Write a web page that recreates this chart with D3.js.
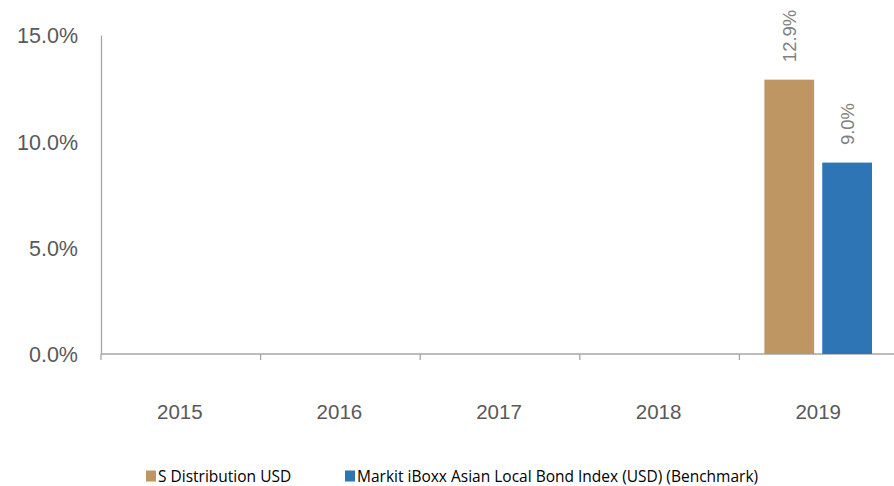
<!DOCTYPE html>
<html>
<head>
<meta charset="utf-8">
<script src="https://cdn.jsdelivr.net/npm/d3@7"></script>
<style>
  body { margin: 0; background: #fff; }
  svg { display: block; }
</style>
</head>
<body>
<div class="chart"></div>
<script>
  var years = ["2015", "2016", "2017", "2018", "2019"];
  var seriesNames = ["S Distribution USD", "Markit iBoxx Asian Local Bond Index (USD) (Benchmark)"];
  var fundValues = [null, null, null, null, 12.9];
  var benchValues = [null, null, null, null, 9.0];
  var yTicks = [0, 5, 10, 15];
  var colors = ["#BD9663", "#2E75B6"];

  var width = 894, height = 486;
  var margin = {top: 35, right: 0, bottom: 132, left: 101};
  var innerW = 798;
  var innerH = height - margin.top - margin.bottom;
  var font = "Liberation Sans, Arial, sans-serif";

  var svg = d3.select(".chart").append("svg")
    .attr("width", width)
    .attr("height", height);

  var g = svg.append("g")
    .attr("transform", "translate(" + margin.left + "," + margin.top + ")");

  var x = d3.scaleBand().domain(years).range([0, innerW]);
  var y = d3.scaleLinear().domain([0, 15]).range([innerH, 0]);
  var x1 = d3.scaleBand().domain([0, 1]).range([25, x.bandwidth() - 27]).paddingInner(0.14);

  //y axis
  var yAxis = g.append("g")
    .call(d3.axisLeft(y).tickValues(yTicks).tickSize(0).tickPadding(23).tickFormat(d => d.toFixed(1) + "%"));
  yAxis.select(".domain").attr("stroke", "#A6A6A6").attr("stroke-width", 1.3);
  yAxis.selectAll("text")
    .attr("dy", "0.36em")
    .style("font-family", font)
    .style("font-size", "21.5px")
    .attr("fill", "#595959");

  //x axis with ticks at category borders
  var xAxis = g.append("g").attr("transform", "translate(0," + innerH + ")");
  xAxis.append("line")
    .attr("x1", 0).attr("x2", innerW)
    .attr("stroke", "#A6A6A6").attr("stroke-width", 1.3);
  xAxis.selectAll(".tk").data(years)
    .enter().append("line")
    .attr("class", "tk")
    .attr("x1", d => x(d)).attr("x2", d => x(d))
    .attr("y1", 0).attr("y2", 6)
    .attr("stroke", "#A6A6A6").attr("stroke-width", 1.3);
  xAxis.selectAll(".lbl").data(years)
    .enter().append("text")
    .attr("class", "lbl")
    .attr("x", d => x(d) + x.bandwidth() / 2 - 1)
    .attr("y", 65)
    .attr("text-anchor", "middle")
    .style("font-family", font)
    .style("font-size", "20.5px")
    .attr("fill", "#595959")
    .text(d => d);

  //bars
  var series = [fundValues, benchValues];
  series.forEach(function(vals, si) {
    var data = years.map((yr, i) => ({year: yr, value: vals[i]})).filter(d => d.value != null);
    g.selectAll(".bar" + si).data(data)
      .enter().append("rect")
      .attr("class", "bar" + si)
      .attr("x", d => x(d.year) + x1(si))
      .attr("width", x1.bandwidth())
      .attr("y", d => y(d.value))
      .attr("height", d => innerH - y(d.value))
      .attr("fill", colors[si]);

    g.selectAll(".val" + si).data(data)
      .enter().append("text")
      .attr("class", "val" + si)
      .attr("transform", d => "translate(" + (x(d.year) + x1(si) + x1.bandwidth() / 2 + 7) + "," + (y(d.value) - 17.5) + ") rotate(-90)")
      .attr("text-anchor", "start")
      .style("font-family", font)
      .style("font-size", "18.5px")
      .attr("fill", "#7F7F7F")
      .text(d => d.value.toFixed(1) + "%");
  });

  //legend
  var legend = svg.append("g").attr("transform", "translate(146,470.5)");
  var legX = [0, 199];
  seriesNames.forEach(function(name, i) {
    var lg = legend.append("g").attr("transform", "translate(" + legX[i] + ",0)");
    lg.append("rect").attr("width", 10).attr("height", 11).attr("fill", colors[i]);
    lg.append("text")
      .attr("x", 12).attr("y", 11)
      .style("font-family", "Open Sans, sans-serif")
      .style("font-size", "15.5px")
      .attr("fill", "#000")
      .text(name);
  });
</script>
</body>
</html>
